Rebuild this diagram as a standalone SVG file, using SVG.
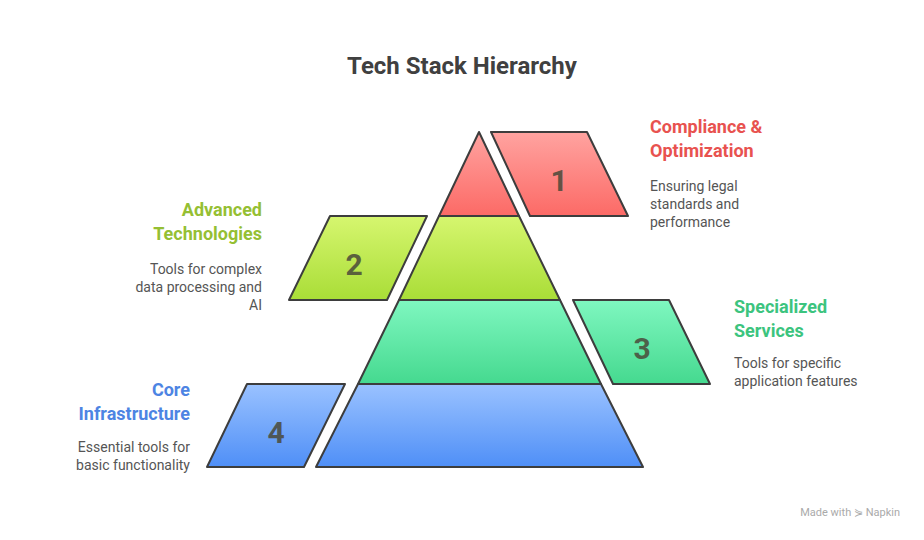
<svg xmlns="http://www.w3.org/2000/svg" width="924" height="540" viewBox="0 0 924 540">
<defs>
<linearGradient id="gr" x1="0" y1="0" x2="0" y2="1"><stop offset="0" stop-color="#ffa3a0"/><stop offset="1" stop-color="#fc6a66"/></linearGradient>
<linearGradient id="gg" x1="0" y1="0" x2="0" y2="1"><stop offset="0" stop-color="#d6f66f"/><stop offset="1" stop-color="#a9dd37"/></linearGradient>
<linearGradient id="gt" x1="0" y1="0" x2="0" y2="1"><stop offset="0" stop-color="#7ff7c0"/><stop offset="1" stop-color="#45d98f"/></linearGradient>
<linearGradient id="gb" x1="0" y1="0" x2="0" y2="1"><stop offset="0" stop-color="#9ac2ff"/><stop offset="1" stop-color="#4f8ff7"/></linearGradient>
</defs>
<style>
.s{stroke:#3d3d3d;stroke-width:2;stroke-linejoin:round}
text{font-family:Roboto,"Liberation Sans",sans-serif}
.n{font-size:30px;font-weight:bold;fill:#4a4a3a;text-anchor:middle;opacity:.85}
.h{font-size:18px;font-weight:bold}
.b{font-size:14px;fill:#555}
</style>
<rect width="924" height="540" fill="#fff"/>
<text x="462" y="74" text-anchor="middle" font-size="24" font-weight="bold" fill="#404040">Tech Stack Hierarchy</text>
<g id="layer1"><polygon class="s" fill="url(#gr)" points="479,132 519,216 439,216"/>
<polygon class="s" fill="url(#gr)" points="491,132 587,132 628,216 530,216"/><text class="n" x="559" y="191">1</text>
<text class="h" x="650" y="133" fill="#e8524f">Compliance &amp;</text><text class="h" x="650" y="157" fill="#e8524f">Optimization</text>
<text class="b" x="650" y="191">Ensuring legal</text><text class="b" x="650" y="209">standards and</text><text class="b" x="650" y="227">performance</text></g>
<g id="layer2"><polygon class="s" fill="url(#gg)" points="439,216 519,216 560,300 399,300"/>
<polygon class="s" fill="url(#gg)" points="330,216 427,216 387,300 289,300"/><text class="n" x="354" y="275">2</text>
<g text-anchor="end"><text class="h" x="262" y="216" fill="#95bf33">Advanced</text><text class="h" x="262" y="240" fill="#95bf33">Technologies</text>
<text class="b" x="262" y="274">Tools for complex</text><text class="b" x="262" y="292">data processing and</text><text class="b" x="262" y="310">AI</text></g></g>
<g id="layer3"><polygon class="s" fill="url(#gt)" points="399,300 560,300 601,384 358,384"/>
<polygon class="s" fill="url(#gt)" points="573,300 669,300 710,384 613,384"/><text class="n" x="642" y="359">3</text>
<text class="h" x="734" y="313" fill="#3cc47e">Specialized</text><text class="h" x="734" y="337" fill="#3cc47e">Services</text>
<text class="b" x="734" y="368">Tools for specific</text><text class="b" x="734" y="386">application features</text></g>
<g id="layer4"><polygon class="s" fill="url(#gb)" points="358,384 601,384 643,467 316,467"/>
<polygon class="s" fill="url(#gb)" points="247,384 345,384 304,467 207,467"/><text class="n" x="276" y="443">4</text>
<g text-anchor="end"><text class="h" x="190" y="396" fill="#4d84e3">Core</text><text class="h" x="190" y="420" fill="#4d84e3">Infrastructure</text>
<text class="b" x="190" y="452">Essential tools for</text><text class="b" x="190" y="470">basic functionality</text></g></g>
<g id="connectors"/>
<text x="900" y="516" text-anchor="end" font-size="11" fill="#aaa">Made with ⋟ Napkin</text>
</svg>
